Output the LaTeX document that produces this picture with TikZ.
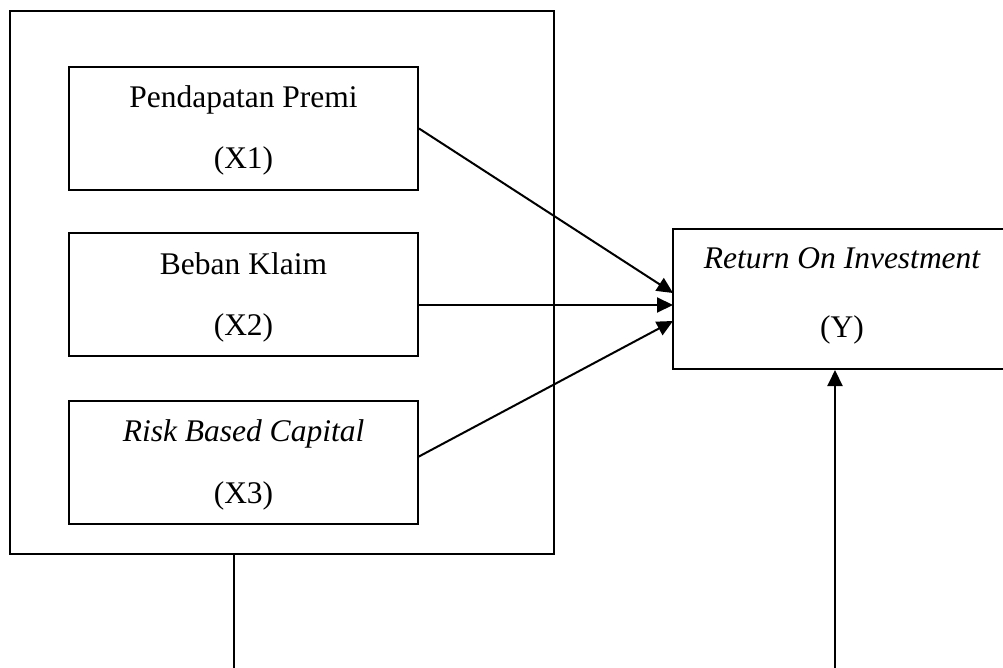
\documentclass[tikz,border=0pt]{standalone}
\usepackage{fontspec}
\setmainfont{Liberation Serif}
\usetikzlibrary{arrows.meta}
\begin{document}
\begin{tikzpicture}[x=1pt,y=-1pt,
  box/.style={draw,line width=2pt,rectangle,inner sep=0pt},
  lbl/.style={anchor=base,inner sep=0pt,font=\fontsize{31.5}{36}\selectfont},
  arr/.style={line width=2pt,-{Triangle[length=16pt,width=15pt]}},
  ln/.style={line width=2pt}]
\clip (0,0) rectangle (1003,668);
\fill[white] (0,0) rectangle (1003,668);
% outer box
\node[box,minimum width=544pt,minimum height=543pt] (outer) at (282,282.5) {};
% inner boxes
\node[box,minimum width=349pt,minimum height=123pt] (x1) at (243.5,128.5) {};
\node[box,minimum width=349pt,minimum height=123pt] (x2) at (243.5,294.5) {};
\node[box,minimum width=349pt,minimum height=123pt] (x3) at (243.5,462.5) {};
\node[box,minimum width=338pt,minimum height=140pt] (y) at (842,299) {};
% labels
\node[lbl] (t1a) at (243.5,108) {Pendapatan Premi};
\node[lbl] (t1b) at (243.5,169) {(X1)};
\node[lbl] (t2a) at (243.5,274) {Beban Klaim};
\node[lbl] (t2b) at (243.5,335) {(X2)};
\node[lbl] (t3a) at (243.5,441) {\itshape Risk Based Capital};
\node[lbl] (t3b) at (243.5,503) {(X3)};
\node[lbl] (tya) at (842,269) {\itshape Return On Investment};
\node[lbl] (tyb) at (842,337) {(Y)};
% connector points
\coordinate (s2) at (418,305);
\coordinate (s3) at (418,457);
\coordinate (e1) at (673,293);
\coordinate (e2) at (673,305);
\coordinate (e3) at (673,321);
\coordinate (b1) at (234,668);
\coordinate (b2) at (835,668);
% connectors
\draw[arr] (x1.east) -- (e1);
\draw[arr] (s2) -- (e2);
\draw[arr] (s3) -- (e3);
\draw[ln] (outer.south -| b1) -- (b1);
\draw[arr] (b2) -- (y.south -| b2);
\end{tikzpicture}
\end{document}
